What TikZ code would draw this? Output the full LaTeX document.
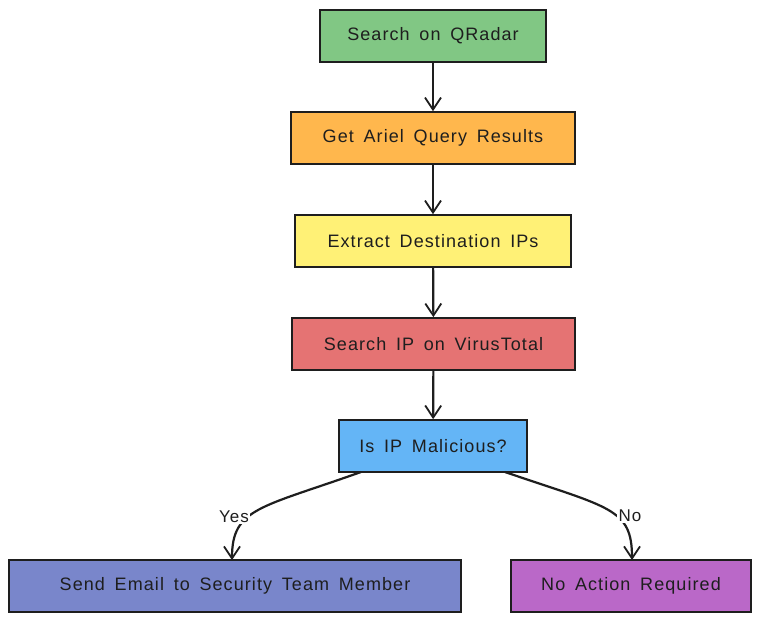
\documentclass[tikz,border=0pt]{standalone}
\usepackage{fontspec}
\setmainfont{Liberation Sans}[LetterSpace=6,WordSpace=1.6]
\usetikzlibrary{arrows.meta}
\definecolor{cgreen}{HTML}{81C784}
\definecolor{corange}{HTML}{FFB74D}
\definecolor{cyellow}{HTML}{FFF176}
\definecolor{cred}{HTML}{E57373}
\definecolor{cblue}{HTML}{64B5F6}
\definecolor{cindigo}{HTML}{7986CB}
\definecolor{cpurple}{HTML}{BA68C8}
\definecolor{ink}{HTML}{1E1E1E}
\tikzset{
  box/.style={draw=ink, line width=1.7pt, rectangle, minimum height=52pt, inner sep=0pt,
    font=\fontsize{18}{21}\selectfont, text=ink},
  arr/.style={draw=ink, line width=2.2pt, -{Straight Barb[length=12pt,width=16pt,line width=1.8pt]}},
  lbl/.style={fill=white, inner sep=1.5pt, font=\fontsize{17}{20}\selectfont, text=ink},
}
\begin{document}
\begin{tikzpicture}[x=1pt,y=-1pt]
\useasboundingbox[fill=white] (0,0) rectangle (762,623);
\node[box, fill=cgreen, minimum width=226pt] (n1) at (433,36) {Search on QRadar};
\node[box, fill=corange, minimum width=284pt] (n2) at (433,138) {Get Ariel Query Results};
\node[box, fill=cyellow, minimum width=276pt] (n3) at (433,241) {Extract Destination IPs};
\node[box, fill=cred, minimum width=283pt] (n4) at (433.5,344) {Search IP on VirusTotal};
\node[box, fill=cblue, minimum width=188pt] (n5) at (433,446) {Is IP Malicious?};
\node[box, fill=cindigo, minimum width=452pt] (n6) at (235,586) {Send Email to Security Team Member};
\node[box, fill=cpurple, minimum width=240pt] (n7) at (631,586) {No Action Required};
\draw[arr] (n1) -- (n2);
\draw[arr] (n2) -- (n3);
\draw[arr] (n3) -- (n4);
\draw[arr] (n4) -- (n5);
\coordinate (ys) at (361,472);
\coordinate (ns) at (505,472);
\coordinate (ye) at (232,560);
\coordinate (ne) at (632,560);
\draw[arr] (ys) .. controls (260,508) and (232,508) .. (ye);
\draw[arr] (ns) .. controls (610,508) and (632,508) .. (ne);
\node[lbl] (yl) at (234,517) {Yes};
\node[lbl] (nl) at (630,516) {No};
\end{tikzpicture}
\end{document}
